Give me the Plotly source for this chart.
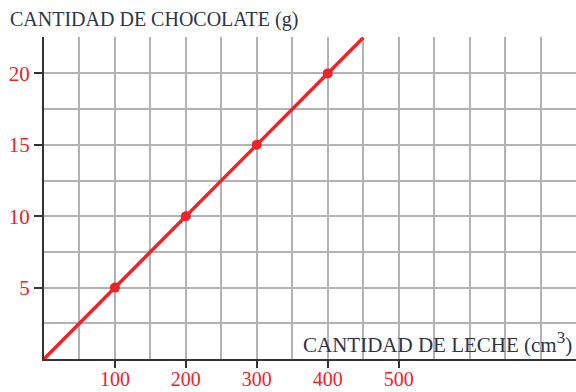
import plotly.graph_objects as go

# Proportion chocolate / milk
leche = [100, 200, 300, 400]          # cm3
chocolate = [5, 10, 15, 20]           # g
leche_recta = [0, 450]
chocolate_recta = [0, 22.5]

x_ticks = [100, 200, 300, 400, 500]
y_ticks = [5, 10, 15, 20]

rojo = "#ee2229"
texto = "#2f3447"
fuente = "Liberation Serif"

fig = go.Figure()
fig.add_trace(go.Scatter(
    x=leche_recta, y=chocolate_recta, mode="lines",
    line=dict(color=rojo, width=3.5), hoverinfo="skip", cliponaxis=False,
))
fig.add_trace(go.Scatter(
    x=leche, y=chocolate, mode="markers",
    marker=dict(color=rojo, size=10, symbol="circle"), cliponaxis=False,
))

fig.update_layout(
    width=576, height=392,
    margin=dict(l=44, r=0, t=37, b=33, autoexpand=False),
    paper_bgcolor="white", plot_bgcolor="white",
    showlegend=False,
    font=dict(family=fuente, size=20, color=texto),
    xaxis=dict(
        range=[0, 750], tickvals=x_ticks, ticktext=[str(v) for v in x_ticks],
        ticks="outside", ticklen=7, tickwidth=1.5, tickcolor="#333333",
        tickfont=dict(family=fuente, size=20, color=rojo),
        ticklabelstandoff=-6,
        showline=True, linecolor="#333333", linewidth=2,
        showgrid=True, gridcolor="#b3b3b3", gridwidth=1.6,
        minor=dict(dtick=50, tick0=0, showgrid=True, gridcolor="#b3b3b3",
                   gridwidth=1.6, ticklen=0),
        zeroline=False, automargin=False,
    ),
    yaxis=dict(
        range=[0, 22.55], tickvals=y_ticks, ticktext=[str(v) for v in y_ticks],
        ticks="outside", ticklen=8, tickwidth=1.5, tickcolor="#333333",
        tickfont=dict(family=fuente, size=21, color=rojo),
        showline=True, linecolor="#333333", linewidth=2,
        showgrid=True, gridcolor="#b3b3b3", gridwidth=1.6,
        minor=dict(dtick=2.5, tick0=0, showgrid=True, gridcolor="#b3b3b3",
                   gridwidth=1.6, ticklen=0),
        zeroline=False, automargin=False,
    ),
    annotations=[
        dict(text="CANTIDAD DE CHOCOLATE (g)", xref="paper", yref="paper",
             x=-0.068, y=1.053, xanchor="left", yanchor="middle",
             showarrow=False, font=dict(family=fuente, size=20, color=texto)),
        dict(text="CANTIDAD DE LECHE (cm<sup><span style='font-size:17px'>3</span></sup>)",
             xref="paper", yref="y",
             x=0.997, y=1.15, xanchor="right", yanchor="middle",
             showarrow=False, font=dict(family=fuente, size=21, color=texto)),
    ],
)

fig.write_html("out.html")
